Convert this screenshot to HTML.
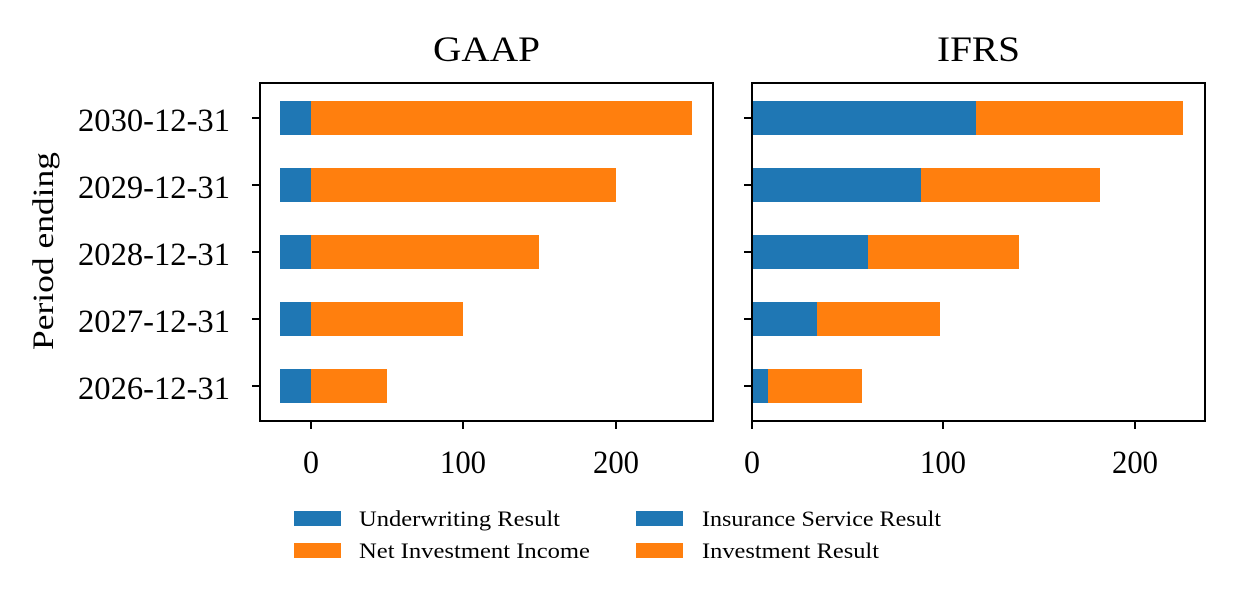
<!DOCTYPE html>
<html><head><meta charset="utf-8"><style>body{margin:0;background:#fff}svg{display:block}</style></head>
<body>
<svg width="1234" height="603" xmlns="http://www.w3.org/2000/svg" font-family="Liberation Serif, DejaVu Serif, serif">
<rect width="1234" height="603" fill="#fff"/>
<g>
<rect x="280" y="101" width="31" height="34" fill="#1f77b4"/><rect x="311" y="101" width="381" height="34" fill="#ff7f0e"/>
<rect x="280" y="168" width="31" height="34" fill="#1f77b4"/><rect x="311" y="168" width="305" height="34" fill="#ff7f0e"/>
<rect x="280" y="235" width="31" height="34" fill="#1f77b4"/><rect x="311" y="235" width="228" height="34" fill="#ff7f0e"/>
<rect x="280" y="302" width="31" height="34" fill="#1f77b4"/><rect x="311" y="302" width="152" height="34" fill="#ff7f0e"/>
<rect x="280" y="369" width="31" height="34" fill="#1f77b4"/><rect x="311" y="369" width="76" height="34" fill="#ff7f0e"/>
</g>
<rect x="260" y="83" width="453" height="338" fill="none" stroke="#000" stroke-width="2"/>
<g>
<rect x="752" y="101" width="224" height="34" fill="#1f77b4"/><rect x="976" y="101" width="207" height="34" fill="#ff7f0e"/>
<rect x="752" y="168" width="169" height="34" fill="#1f77b4"/><rect x="921" y="168" width="179" height="34" fill="#ff7f0e"/>
<rect x="752" y="235" width="116" height="34" fill="#1f77b4"/><rect x="868" y="235" width="151" height="34" fill="#ff7f0e"/>
<rect x="752" y="302" width="65" height="34" fill="#1f77b4"/><rect x="817" y="302" width="123" height="34" fill="#ff7f0e"/>
<rect x="752" y="369" width="16" height="34" fill="#1f77b4"/><rect x="768" y="369" width="94" height="34" fill="#ff7f0e"/>
</g>
<rect x="752" y="83" width="453" height="338" fill="none" stroke="#000" stroke-width="2"/>
<g stroke="#000" stroke-width="2">
<line x1="252" y1="118" x2="260" y2="118"/><line x1="252" y1="185" x2="260" y2="185"/><line x1="252" y1="252" x2="260" y2="252"/><line x1="252" y1="319" x2="260" y2="319"/><line x1="252" y1="386" x2="260" y2="386"/>
<line x1="744" y1="118" x2="752" y2="118"/><line x1="744" y1="185" x2="752" y2="185"/><line x1="744" y1="252" x2="752" y2="252"/><line x1="744" y1="319" x2="752" y2="319"/><line x1="744" y1="386" x2="752" y2="386"/>
<line x1="311" y1="421" x2="311" y2="429"/><line x1="463" y1="421" x2="463" y2="429"/><line x1="616" y1="421" x2="616" y2="429"/>
<line x1="752" y1="421" x2="752" y2="429"/><line x1="943" y1="421" x2="943" y2="429"/><line x1="1135" y1="421" x2="1135" y2="429"/>
</g>
<g font-size="33">
<text x="78" y="131" textLength="152" lengthAdjust="spacingAndGlyphs">2030-12-31</text>
<text x="78" y="198" textLength="152" lengthAdjust="spacingAndGlyphs">2029-12-31</text>
<text x="78" y="265" textLength="152" lengthAdjust="spacingAndGlyphs">2028-12-31</text>
<text x="78" y="332" textLength="152" lengthAdjust="spacingAndGlyphs">2027-12-31</text>
<text x="78" y="399" textLength="152" lengthAdjust="spacingAndGlyphs">2026-12-31</text>
</g>
<g font-size="33">
<text x="303" y="473" textLength="16" lengthAdjust="spacingAndGlyphs">0</text>
<text x="440" y="473" textLength="46" lengthAdjust="spacingAndGlyphs">100</text>
<text x="593" y="473" textLength="46" lengthAdjust="spacingAndGlyphs">200</text>
<text x="744" y="473" textLength="16" lengthAdjust="spacingAndGlyphs">0</text>
<text x="920" y="473" textLength="46" lengthAdjust="spacingAndGlyphs">100</text>
<text x="1112" y="473" textLength="46" lengthAdjust="spacingAndGlyphs">200</text>
</g>
<text x="433" y="61" font-size="36" textLength="107" lengthAdjust="spacingAndGlyphs">GAAP</text>
<text x="937" y="61" font-size="36" textLength="83" lengthAdjust="spacingAndGlyphs">IFRS</text>
<text transform="translate(53,350) rotate(-90)" font-size="30" textLength="198" lengthAdjust="spacingAndGlyphs">Period ending</text>
<rect x="294" y="511" width="47" height="15" fill="#1f77b4"/><rect x="294" y="543" width="47" height="15" fill="#ff7f0e"/>
<rect x="636" y="511" width="47" height="15" fill="#1f77b4"/><rect x="636" y="543" width="47" height="15" fill="#ff7f0e"/>
<g font-size="22">
<text x="359" y="526" textLength="201" lengthAdjust="spacingAndGlyphs">Underwriting Result</text>
<text x="359" y="558" textLength="231" lengthAdjust="spacingAndGlyphs">Net Investment Income</text>
<text x="702" y="526" textLength="239" lengthAdjust="spacingAndGlyphs">Insurance Service Result</text>
<text x="702" y="558" textLength="177" lengthAdjust="spacingAndGlyphs">Investment Result</text>
</g>
</svg>
</body></html>
